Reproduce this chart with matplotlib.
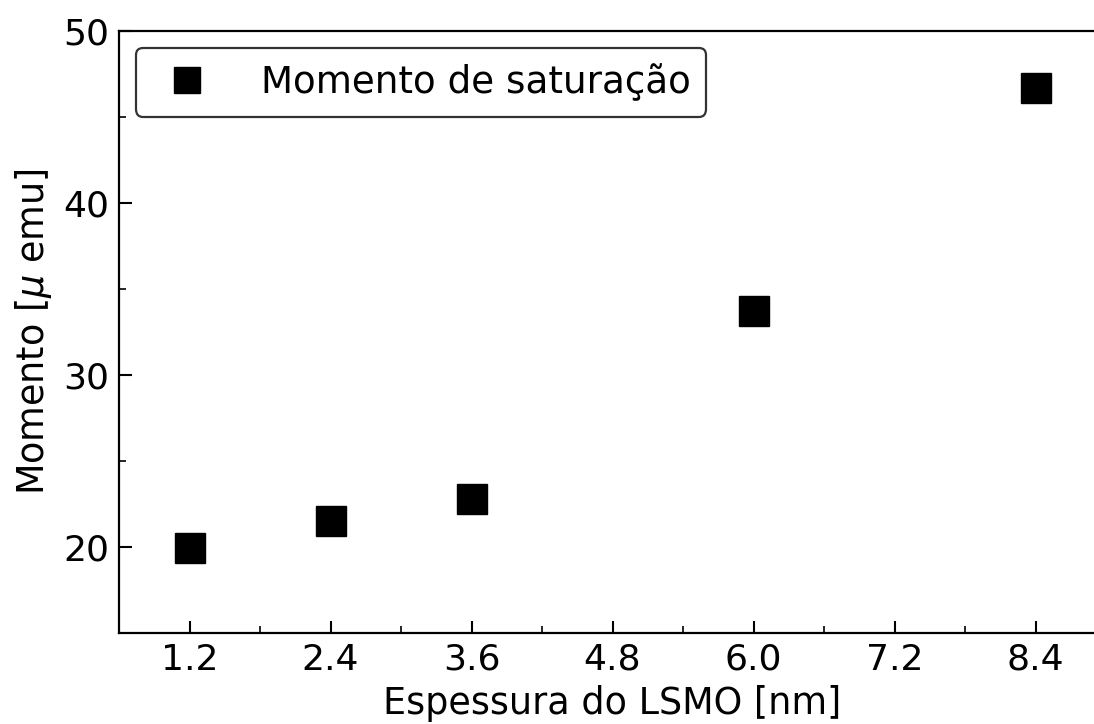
import matplotlib
matplotlib.use("Agg")
import matplotlib.pyplot as plt
from matplotlib.ticker import MultipleLocator

# espessura [nm] e momento de saturacao [micro emu]
espessura = [1.2, 2.4, 3.6, 6.0, 8.4]
momento = [19.95, 21.5, 22.8, 33.7, 46.7]
xticks = [1.2, 2.4, 3.6, 4.8, 6.0, 7.2, 8.4]
yticks = [20, 30, 40, 50]

fig = plt.figure(figsize=(10.94, 7.24), dpi=100)
ax = fig.add_axes([119/1094, 1-633/724, (1106-119)/1094, (633-31)/724])

ax.plot(espessura, momento, 's', color='black', markersize=21.5, label='Momento de saturação')

ax.set_xlim(0.6, 9.0)
ax.set_ylim(15, 50)
ax.set_xticks(xticks)
ax.set_xticklabels([f"{v:.1f}" for v in xticks])
ax.set_yticks(yticks)
ax.xaxis.set_minor_locator(MultipleLocator(0.6))
ax.yaxis.set_minor_locator(MultipleLocator(5))
ax.tick_params(which='major', direction='in', length=9, width=1.5, labelsize=26, pad=7)
ax.tick_params(which='minor', direction='in', length=5, width=1.2)
for s in ax.spines.values():
    s.set_linewidth(1.6)

ax.set_xlabel('Espessura do LSMO [nm]', fontsize=26.3, labelpad=6)
ax.set_ylabel(r'Momento [$\mu$ emu]', fontsize=26.3, labelpad=7)

leg = ax.legend(loc='upper left', fontsize=26.8, frameon=True, fancybox=True,
                edgecolor='#333333', framealpha=1, borderpad=0.42, handletextpad=1.04,
                handlelength=1.9, markerscale=0.85, borderaxespad=0.45)
leg.get_frame().set_linewidth(1.6)

fig.savefig('out.png', dpi=100)
